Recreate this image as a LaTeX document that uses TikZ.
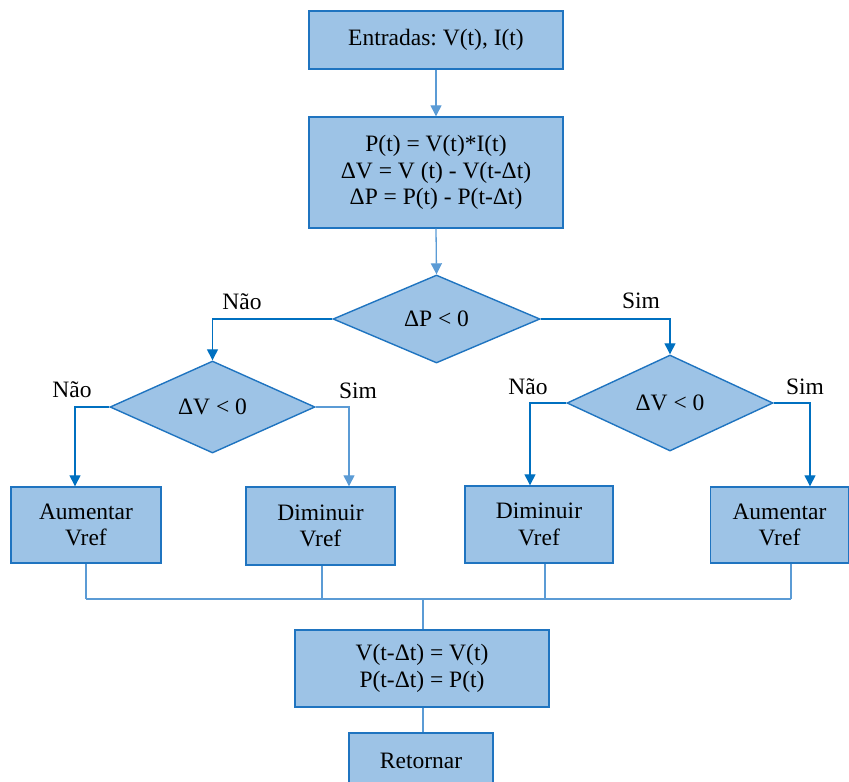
\documentclass[tikz,border=0pt]{standalone}
\usepackage{fontspec}
\setmainfont{Liberation Serif}
\frenchspacing
\usetikzlibrary{shapes.geometric,arrows.meta,calc}
\definecolor{fillc}{HTML}{9DC3E6}
\definecolor{edgec}{HTML}{1F74C0}
\definecolor{darkc}{HTML}{0070C0}
\definecolor{lightc}{HTML}{5B9BD5}
\tikzset{
  box/.style={draw=edgec, fill=fillc, line width=1.4pt, inner sep=0pt, align=center,
    font=\fontsize{23.5}{26.5}\selectfont},
  dia/.style={diamond, draw=edgec, fill=fillc, line width=1.4pt, inner sep=0pt, aspect=2.3,
    font=\fontsize{23.5}{26.5}\selectfont},
  lbl/.style={font=\fontsize{23.5}{26}\selectfont, inner sep=0pt},
  darrow/.style={draw=darkc, line width=1.3pt, -{Triangle[length=11pt,width=11pt]}},
  larrow/.style={draw=lightc, line width=1.3pt, -{Triangle[length=11pt,width=11pt]}},
  lline/.style={draw=lightc, line width=1.2pt},
}
\begin{document}
\begin{tikzpicture}[x=1pt,y=-1pt]
\useasboundingbox (0,0) rectangle (849,782);
\node[box, minimum width=254pt, minimum height=58pt] (b1) at (436,40) {Entradas: V(t), I(t)};
\node[box, minimum width=254pt, minimum height=111pt] (b2) at (436,172.5)
  {P(t) = V(t)*I(t)\\ ΔV = V (t) - V(t-Δt)\\ ΔP = P(t) - P(t-Δt)};
\node[dia, minimum width=207pt, minimum height=88pt] (d1) at (436.5,319) {ΔP < 0};
\node[dia, minimum width=205pt, minimum height=92pt] (d2) at (212.5,407) {ΔV < 0};
\node[dia, minimum width=206pt, minimum height=96pt] (d3) at (670,403) {ΔV < 0};
\node[box, minimum width=150pt, minimum height=76pt] (bal) at (86,525) {Aumentar\\Vref};
\node[box, minimum width=149pt, minimum height=78pt] (bdl) at (320.5,526) {Diminuir\\Vref};
\node[box, minimum width=148pt, minimum height=77pt] (bdr) at (539,524.5) {Diminuir\\Vref};
\node[box, minimum width=138pt, minimum height=76pt] (bar) at (779.5,525) {Aumentar\\Vref};
\node[box, minimum width=254pt, minimum height=77pt] (bu) at (422,668.5) {V(t-Δt) = V(t)\\P(t-Δt) = P(t)};
\node[box, minimum width=144pt, minimum height=56pt] (br) at (421,761) {Retornar};

\node[lbl] (l1) at (242,302) {Não};
\node[lbl] (l2) at (641,301) {Sim};
\node[lbl] (l3) at (72,390) {Não};
\node[lbl] (l4) at (358,391) {Sim};
\node[lbl] (l5) at (528,387) {Não};
\node[lbl] (l6) at (805,387) {Sim};

\draw[larrow] (b1.south) -- (b2.north);
\draw[larrow] (b2.south) -- (d1.north);
\draw[darrow] (d1.west) -| (d2.north);
\draw[darrow] (d1.east) -| (d3.north);
\draw[darrow] (d2.west) -| ($(bal.north)+(-11,0)$);
\draw[larrow] (d2.east) -| ($(bdl.north)+(28.5,0)$);
\draw[darrow] (d3.west) -| ($(bdr.north)+(-9,0)$);
\draw[darrow] (d3.east) -| ($(bar.north)+(30.5,0)$);

\coordinate (bus) at (423,599);
\draw[lline] (bal.south) -- (bal.south |- bus);
\draw[lline] ($(bdl.south)+(1.5,0)$) -- ($(bdl.south |- bus)+(1.5,0)$);
\draw[lline] ($(bdr.south)+(6,0)$) -- ($(bdr.south |- bus)+(6,0)$);
\draw[lline] ($(bar.south)+(11.5,0)$) -- ($(bar.south |- bus)+(11.5,0)$);
\draw[lline] (bal.south |- bus) -- ($(bar.south |- bus)+(11.5,0)$);
\draw[lline] (bus) -- (bu.north -| bus);
\draw[lline] (bu.south -| bus) -- (br.north -| bus);
\end{tikzpicture}
\end{document}
